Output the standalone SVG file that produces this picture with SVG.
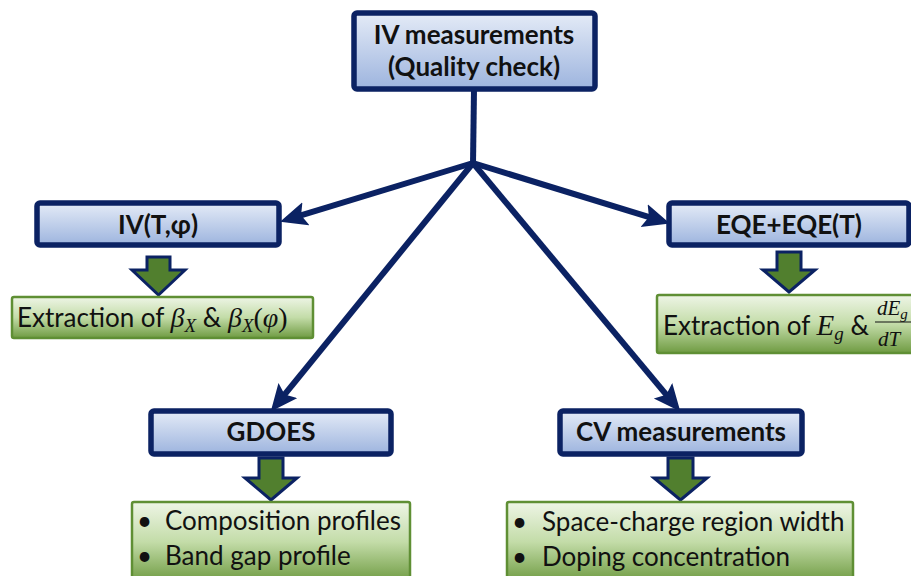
<svg xmlns="http://www.w3.org/2000/svg" width="911" height="576" viewBox="0 0 911 576">
<defs>
<linearGradient id="gb" x1="0" y1="0" x2="0" y2="1">
<stop offset="0" stop-color="#e4ebf7"/>
<stop offset="1" stop-color="#9db4de"/>
</linearGradient>
<linearGradient id="gg" x1="0" y1="0" x2="0" y2="1">
<stop offset="0" stop-color="#eef5e6"/>
<stop offset="0.5" stop-color="#c3dca8"/>
<stop offset="1" stop-color="#6f9b42"/>
</linearGradient>
<marker id="ah" markerUnits="userSpaceOnUse" markerWidth="28" markerHeight="26" refX="19" refY="12" orient="auto">
<path d="M0,0 L27,12 L0,24 L5,12 Z" fill="#0b2263"/>
</marker>
</defs>
<style>
.bx{fill:url(#gb);stroke:#0b2263;stroke-width:5.5}
.gr{fill:url(#gg);stroke:#5f8f34;stroke-width:2.5}
.ba{fill:#517f2e;stroke:#0b2263;stroke-width:3;stroke-linejoin:miter}
.bt{font-family:Lato,"Open Sans","Liberation Sans",sans-serif;font-weight:bold;font-size:26px;fill:#111;text-anchor:middle}
.gt{font-family:Lato,"Open Sans","Liberation Sans",sans-serif;font-size:26px;fill:#111}
.m{font-family:"Liberation Serif","DejaVu Serif",serif;font-style:italic}
.cn{stroke:#0b2263;stroke-width:6;fill:none}
</style>
<g id="connectors">
<path class="cn" d="M474,89 L473,164"/>
<line class="cn" x1="473" y1="163" x2="287.7" y2="219.3" marker-end="url(#ah)"/>
<line class="cn" x1="473" y1="163" x2="662.3" y2="221.2" marker-end="url(#ah)"/>
<line class="cn" x1="473" y1="163" x2="275.8" y2="405.3" marker-end="url(#ah)"/>
<line class="cn" x1="473" y1="163" x2="675.2" y2="405.4" marker-end="url(#ah)"/>
<path class="ba" d="M147,257 H170 V270 H185 L158.5,295 L132,270 H147 Z"/>
<path class="ba" d="M777,252 H801 V270 H815 L789,292 L763,270 H777 Z"/>
<path class="ba" d="M259,458 H283 V478 H297 L271,500 L245,478 H259 Z"/>
<path class="ba" d="M668,458 H693 V478 H707 L680.5,500 L654,478 H668 Z"/>
</g>
<g id="iv">
<rect class="bx" x="354" y="13" width="241" height="76" rx="3"/>
<text class="bt" x="474" y="44">IV measurements</text>
<text class="bt" x="474" y="76">(Quality check)</text>
</g>
<g id="ivt">
<rect class="bx" x="37" y="203" width="242" height="42" rx="3"/>
<text class="bt" x="158" y="234">IV(T,φ)</text>
</g>
<g id="eqe">
<rect class="bx" x="669" y="203" width="240" height="42" rx="3"/>
<text class="bt" x="789" y="234" font-size="24.5">EQE+EQE(T)</text>
</g>
<g id="gdoes">
<rect class="bx" x="151" y="411" width="240" height="43" rx="3"/>
<text class="bt" x="271" y="441" font-size="24.5">GDOES</text>
</g>
<g id="cv">
<rect class="bx" x="560" y="411" width="242" height="43" rx="3"/>
<text class="bt" x="681" y="441">CV measurements</text>
</g>
<g id="res-ivt">
<rect class="gr" x="12" y="297" width="301" height="41" rx="2"/>
<text class="gt" x="17" y="327" font-size="23.5">Extraction of <tspan class="m" font-size="28">β</tspan><tspan class="m" font-size="19" dy="5">X</tspan><tspan dy="-5"> &amp; </tspan><tspan class="m" font-size="28">β</tspan><tspan class="m" font-size="19" dy="5">X</tspan><tspan dy="-5" font-family="Liberation Serif" font-size="28">(</tspan><tspan class="m" font-size="28">φ</tspan><tspan font-family="Liberation Serif" font-size="28">)</tspan></text>
</g>
<g id="res-eqe">
<rect class="gr" x="657" y="295" width="262" height="58" rx="2"/>
<text class="gt" x="663" y="335" font-size="24.5">Extraction of <tspan class="m" font-size="29">E</tspan><tspan class="m" font-size="19" dy="5">g</tspan><tspan dy="-5"> &amp;</tspan></text>
<text class="m" x="877" y="315" font-size="21" fill="#111">dE<tspan font-size="15" dy="4">g</tspan></text>
<line x1="875" y1="322" x2="911" y2="322" stroke="#111" stroke-width="1.2"/>
<text class="m" x="878" y="346" font-size="21" fill="#111">dT</text>
</g>
<g id="res-gdoes">
<rect class="gr" x="132" y="502" width="278" height="80" rx="2"/>
<text class="gt" x="137" y="530">•</text>
<text class="gt" x="165" y="530">Composition profiles</text>
<text class="gt" x="137" y="565">•</text>
<text class="gt" x="165" y="565">Band gap profile</text>
</g>
<g id="res-cv">
<rect class="gr" x="507" y="502" width="346" height="80" rx="2"/>
<text class="gt" x="512" y="531">•</text>
<text class="gt" x="542" y="531">Space-charge region width</text>
<text class="gt" x="512" y="566">•</text>
<text class="gt" x="542" y="566">Doping concentration</text>
</g>
</svg>
